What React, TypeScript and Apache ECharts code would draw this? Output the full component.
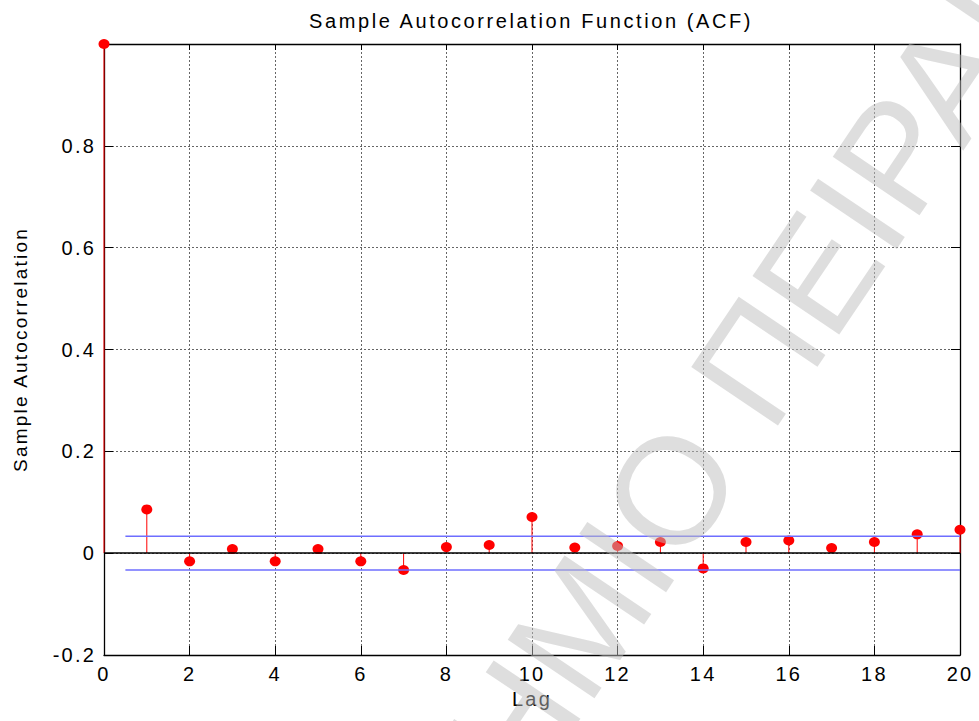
import React, { useEffect, useRef } from 'react';
import * as echarts from 'echarts';

const TITLE = 'Sample Autocorrelation Function (ACF)';
const X_NAME = 'Lag';
const Y_NAME = 'Sample Autocorrelation';

const LAGS = [0, 1, 2, 3, 4, 5, 6, 7, 8, 9, 10, 11, 12, 13, 14, 15, 16, 17, 18, 19, 20];
const ACF = [1.0, 0.086, -0.016, 0.008, -0.016, 0.008, -0.016, -0.033, 0.012, 0.016, 0.071,
  0.011, 0.014, 0.022, -0.030, 0.022, 0.025, 0.010, 0.022, 0.037, 0.046];

const CONF_BOUND = 0.033;
const BOUND_LAGS = [0.5, 20];

const X_MIN = 0;
const X_MAX = 20;
const X_STEP = 2;
const Y_MIN = -0.2;
const Y_MAX = 1.0;
const Y_STEP = 0.2;

const WATERMARK_LEFT = 'ΠΑΝΕΠΙΣΤΗΜΙΟ';
const WATERMARK_RIGHT = 'ΠΕΙΡΑΙΩΣ';

const FONT = '"Liberation Sans", Arial, Helvetica, sans-serif';

export default function App() {
  const ref = useRef<HTMLDivElement>(null);

  useEffect(() => {
    if (!ref.current) return;
    const chart = echarts.init(ref.current, undefined, { renderer: 'svg' });

    const axisLine = { onZero: false, lineStyle: { color: '#000', width: 1.3 } };
    const tick = { show: true, inside: true, length: 9, lineStyle: { color: '#000', width: 1 } };
    const split = { show: true, lineStyle: { color: '#666', width: 1, type: [2, 2] as any } };
    const labelStyle = { fontSize: 20, color: '#000', fontFamily: FONT };

    const stemData = LAGS.map((l, i) => [l, ACF[i]]);
    const upper = BOUND_LAGS.map((l) => [l, CONF_BOUND]);
    const lower = BOUND_LAGS.map((l) => [l, -CONF_BOUND]);

    const wmAngle = (56 * Math.PI) / 180;
    const wmFill = 'rgba(190,190,190,0.5)';
    const wmFont = '152px "Liberation Sans", Arial, sans-serif';

    chart.setOption({
      animation: false,
      backgroundColor: '#fff',
      title: {
        text: TITLE,
        left: 304,
        top: 6,
        textStyle: { fontSize: 20, fontWeight: 'normal', color: '#000', fontFamily: FONT },
      },
      grid: { left: 104, right: 19, top: 44, bottom: 66, show: false },
      xAxis: [
        {
          type: 'value', position: 'bottom', min: X_MIN, max: X_MAX, interval: X_STEP,
          name: X_NAME, nameLocation: 'middle', nameGap: 34,
          nameTextStyle: labelStyle,
          axisLine, axisTick: tick,
          axisLabel: { ...labelStyle, margin: 9 },
          splitLine: split,
        },
        {
          type: 'value', position: 'top', min: X_MIN, max: X_MAX, interval: X_STEP,
          axisLine, axisTick: { ...tick, length: 6 }, axisLabel: { show: false }, splitLine: { show: false },
        },
      ],
      yAxis: [
        {
          type: 'value', position: 'left', min: Y_MIN, max: Y_MAX, interval: Y_STEP,
          name: Y_NAME, nameLocation: 'middle', nameGap: 74,
          nameTextStyle: { ...labelStyle, fontSize: 19 },
          axisLine, axisTick: tick,
          axisLabel: {
            ...labelStyle, margin: 8,
            formatter: (v: number) => (Math.abs(v) < 1e-9 ? '0' : v > 0.95 ? '' : String(Math.round(v * 10) / 10)),
          },
          splitLine: split,
        },
        {
          type: 'value', position: 'right', min: Y_MIN, max: Y_MAX, interval: Y_STEP,
          axisLine, axisTick: tick, axisLabel: { show: false }, splitLine: { show: false },
        },
      ],
      series: [
        {
          type: 'custom',
          silent: true,
          clip: false,
          z: 2,
          data: stemData,
          renderItem: (params: any, api: any) => {
            const x = api.value(0);
            const y = api.value(1);
            const p0 = api.coord([x, 0]);
            const p1 = api.coord([x, y]);
            return {
              type: 'line',
              shape: { x1: p0[0], y1: p0[1], x2: p1[0], y2: p1[1] },
              style: { stroke: '#ff0000', lineWidth: 1 },
            };
          },
        },
        {
          type: 'scatter',
          silent: true,
          clip: false,
          z: 3,
          symbol: 'circle',
          symbolSize: [11, 10],
          itemStyle: { color: '#ff0000', opacity: 1 },
          data: stemData,
        },
        {
          type: 'line',
          silent: true,
          clip: false,
          z: 4,
          symbol: 'none',
          data: upper,
          lineStyle: { color: '#6e6eff', width: 1.5 },
          markLine: {
            silent: true,
            symbol: ['none', 'none'],
            label: { show: false },
            lineStyle: { color: '#000', width: 1.5, type: 'solid' },
            data: [{ yAxis: 0 }],
          },
        },
        {
          type: 'line',
          silent: true,
          clip: false,
          z: 4,
          symbol: 'none',
          data: lower,
          lineStyle: { color: '#6e6eff', width: 1.5 },
        },
      ],
      graphic: [
        {
          type: 'group',
          silent: true,
          z: 100,
          children: [
            {
              type: 'text', x: 704, y: 441, rotation: wmAngle, z: 100,
              style: { text: WATERMARK_LEFT, font: wmFont, fill: wmFill, align: 'right', verticalAlign: 'middle' },
            },
            {
              type: 'text', x: 727, y: 406, rotation: wmAngle, z: 100,
              style: { text: WATERMARK_RIGHT, font: wmFont, fill: wmFill, align: 'left', verticalAlign: 'middle' },
            },
          ],
        },
      ],
    });

    const applySpacing = () => {
      const el = ref.current;
      if (!el) return;
      el.querySelectorAll('text').forEach((t) => {
        const s = t.textContent || '';
        if (s === WATERMARK_LEFT || s === WATERMARK_RIGHT) return;
        const ls = s === TITLE ? 2.6 : 2.2;
        t.setAttribute('letter-spacing', String(ls));
      });
    };
    try {
      (chart.getZr() as any).flush();
    } catch (e) {}
    applySpacing();
    chart.on('finished', applySpacing);

    return () => {
      chart.dispose();
    };
  }, []);

  return <div ref={ref} style={{ width: 979, height: 721, position: 'absolute', left: 0, top: 0 }} />;
}
